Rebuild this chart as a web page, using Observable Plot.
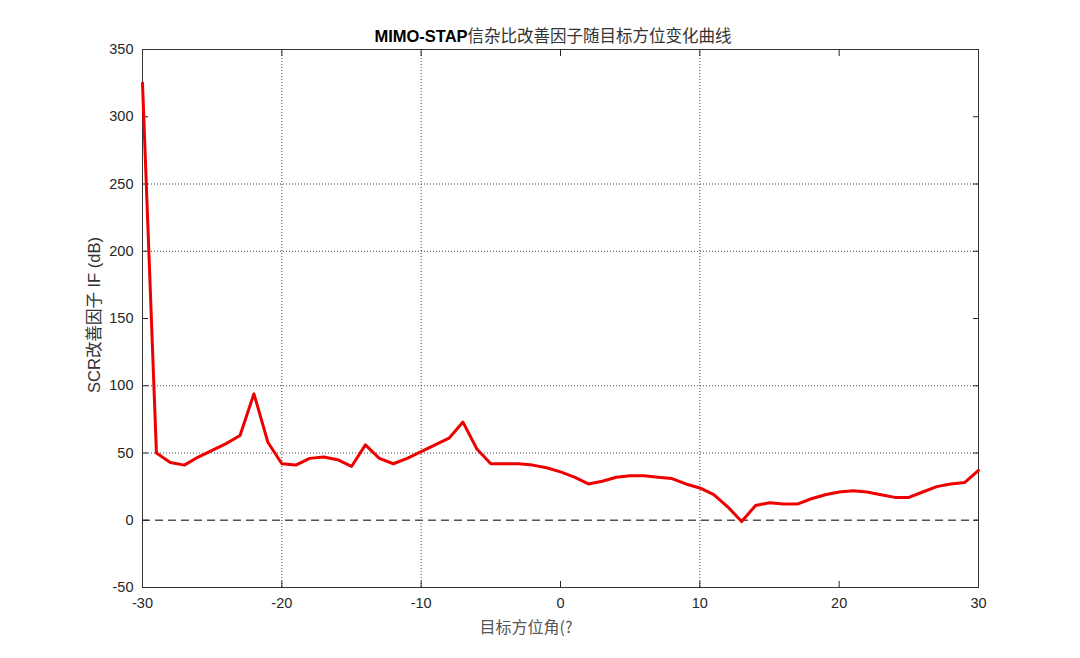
<!DOCTYPE html>
<html>
<head>
<meta charset="utf-8">
<script src="https://cdn.jsdelivr.net/npm/d3@7"></script>
<script src="https://cdn.jsdelivr.net/npm/@observablehq/plot@0.6"></script>
<style>
  html, body { margin: 0; padding: 0; background: #fff; }
  #chart svg { display: block; }
</style>
</head>
<body>
<div id="chart"></div>
<script>
const angles = [-30,-29,-28,-27,-26,-25,-24,-23,-22,-21,-20,-19,-18,-17,-16,-15,-14,-13,-12,-11,-10,
  -9,-8,-7,-6,-5,-4,-3,-2,-1,0,1,2,3,4,5,6,7,8,9,10,11,12,13,14,15,16,17,18,19,20,
  21,22,23,24,25,26,27,28,29,30];
const scrIF = [325,50,43,41,47,52,57,63,94,58,42,41,46,47,45,40,56,46,42,46,51,
  56,61,73,53,42,42,42,41,39,36,32,27,29,32,33,33,32,31,27,24,19,10,-1,11,13,12,12,16,19,21,
  22,21,19,17,17,21,25,27,28,37];
const xTicks = [-30,-20,-10,0,10,20,30];
const yTicks = [-50,0,50,100,150,200,250,300,350];
const xGrid = [-20,-10,10];
const yGrid = [50,100,200,250];
const titleBold = "MIMO-STAP";
const titleRest = "信杂比改善因子随目标方位变化曲线";
const xLabel = "目标方位角(?";
const yLabel = "SCR改善因子 IF (dB)";

const data = angles.map((a, i) => ({angle: a, value: scrIF[i]}));
const tickColor = "#262626";
const font = "Liberation Sans, Arial, sans-serif";
const fmt = d => String(d);

const plot = Plot.plot({
  width: 1080,
  height: 658,
  marginLeft: 142,
  marginRight: 102,
  marginTop: 49,
  marginBottom: 71,
  style: {fontFamily: font, fontSize: "14px", color: tickColor, background: "#fff"},
  x: {domain: [-30, 30]},
  y: {domain: [-50, 350]},
  marks: [
    Plot.gridX(xGrid, {stroke: "#222", strokeOpacity: 0.85, strokeDasharray: "1,2"}),
    Plot.gridY(yGrid, {stroke: "#222", strokeOpacity: 0.85, strokeDasharray: "1,2"}),
    Plot.ruleY([0], {stroke: "#555", strokeWidth: 1.3, strokeDasharray: "8,5"}),
    Plot.axisX({ticks: xTicks, tickSize: -6, tickPadding: 16, tickFormat: fmt, label: null, fontSize: 14.5, anchor: "bottom"}),
    Plot.axisX({ticks: xTicks, tickSize: -6, tickFormat: () => "", label: null, anchor: "top"}),
    Plot.axisY({ticks: yTicks, tickSize: -6, tickPadding: 15, tickFormat: fmt, label: null, fontSize: 14.5, anchor: "left"}),
    Plot.axisY({ticks: yTicks, tickSize: -6, tickFormat: () => "", label: null, anchor: "right"}),
    Plot.frame({stroke: "#333", strokeWidth: 1}),
    Plot.line(data, {x: "angle", y: "value", stroke: "#ee0000", strokeWidth: 3, strokeLinejoin: "round"})
  ]
});

document.getElementById("chart").appendChild(plot);

const svg = d3.select(plot);
const t = svg.append("text")
  .attr("x", 553).attr("y", 42)
  .attr("text-anchor", "middle")
  .attr("font-size", 16.5)
  .attr("fill", "#000");
t.append("tspan").attr("font-family", font).attr("font-weight", "bold").text(titleBold);
t.append("tspan").attr("font-family", "Noto Sans CJK SC, sans-serif").attr("fill", "#333").text(titleRest);

svg.append("text")
  .attr("x", 526).attr("y", 633)
  .attr("text-anchor", "middle")
  .attr("font-size", 16)
  .attr("font-family", "Noto Sans CJK SC, sans-serif")
  .attr("fill", "#555")
  .text(xLabel);

svg.append("text")
  .attr("transform", "translate(100,315) rotate(-90)")
  .attr("text-anchor", "middle")
  .attr("font-size", 16.5)
  .attr("font-family", font + ", Noto Sans CJK SC")
  .attr("fill", "#333")
  .text(yLabel);
</script>
</body>
</html>
